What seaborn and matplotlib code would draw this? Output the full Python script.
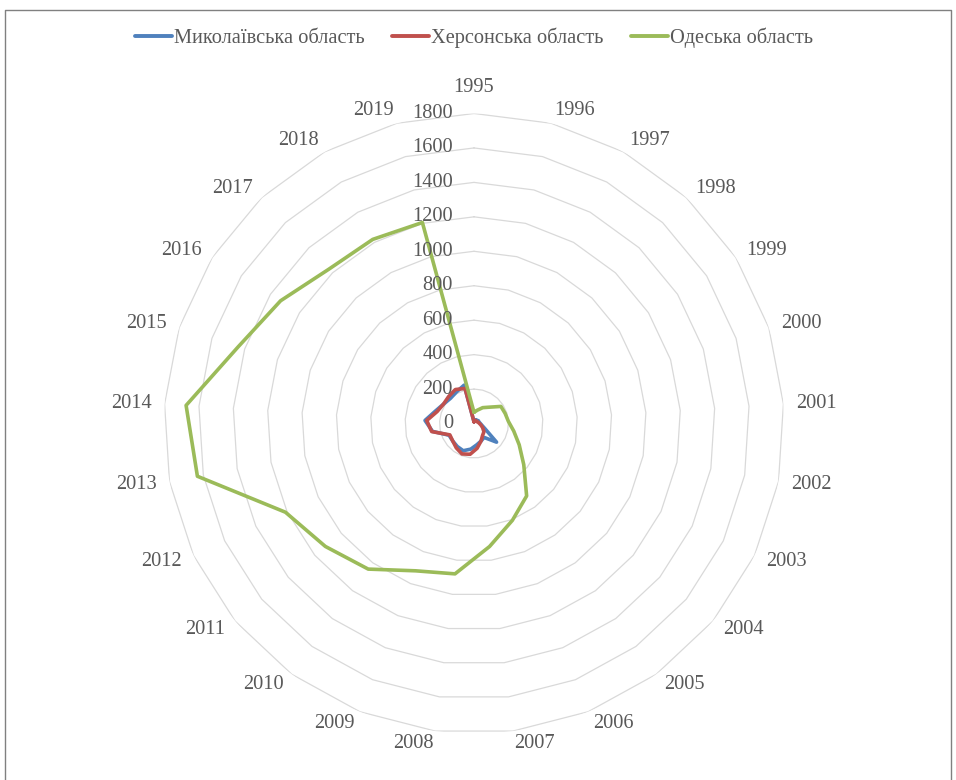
import numpy as np
import pandas as pd
import matplotlib
matplotlib.use("Agg")
import matplotlib.pyplot as plt
from matplotlib.lines import Line2D
import seaborn as sns

# ---------------- data ----------------
years = [str(y) for y in range(1995, 2020)]
series_names = ["Миколаївська область", "Херсонська область", "Одеська область"]
mykolaiv = [10, 20, 25, 25, 30, 30, 35, 45, 70, 170, 100, 110, 125, 150, 170,
            165, 160, 160, 245, 285, 235, 210, 200, 210, 230]
kherson = [10, 15, 20, 20, 20, 25, 30, 40, 55, 75, 85, 110, 145, 180, 190,
           175, 160, 155, 250, 275, 225, 210, 215, 225, 210]
odesa = [65, 80, 105, 130, 185, 190, 200, 235, 290, 375, 520, 605, 720, 880, 920,
         1045, 1120, 1210, 1635, 1675, 1440, 1330, 1230, 1220, 1205]
r_ticks = [0, 200, 400, 600, 800, 1000, 1200, 1400, 1600, 1800]
colors = ["#4F81BD", "#C0504D", "#9BBB59"]

# ---------------- style ----------------
sns.set_theme(style="white")
plt.rcParams["font.family"] = ["Liberation Serif", "DejaVu Serif"]
FS = 14.7

W, H = 956, 780
fig = plt.figure(figsize=(W / 100, H / 100), dpi=100)
cx, cy, R = 474, 423.5, 310
ax = fig.add_axes([(cx - R) / W, (H - cy - R) / H, 2 * R / W, 2 * R / H],
                  projection="polar")
ax.set_theta_zero_location("N")
ax.set_theta_direction(-1)

n = len(years)
theta = np.arange(n) * 2 * np.pi / n
theta_closed = np.append(theta, 2 * np.pi)

# polygon gridlines
for r in r_ticks[1:]:
    ax.plot(theta_closed, [r] * (n + 1), color="#D9D9D9", lw=0.9, zorder=1)

# data lines via seaborn
rows = []
for name, vals in zip(series_names, [mykolaiv, kherson, odesa]):
    vc = list(vals) + [vals[0]]
    for i, (t, v) in enumerate(zip(theta_closed, vc)):
        rows.append({"series": name, "theta": t, "value": v, "order": i})
df = pd.DataFrame(rows)
sns.lineplot(data=df, x="theta", y="value", hue="series", hue_order=series_names,
             palette=colors, sort=False, estimator=None, units="series",
             lw=2.6, ax=ax, legend=False, zorder=3)

ax.set_ylim(0, r_ticks[-1])
ax.set_xlabel("")
ax.set_ylabel("")
ax.grid(False)
ax.spines["polar"].set_visible(False)
ax.set_xticks([])
ax.set_yticks([])
ax.set_facecolor("none")

# radial value labels
for v in r_ticks:
    ax.annotate(str(v), xy=(0, v), xytext=(-21, 0), textcoords="offset pixels",
                ha="right", va="center", fontsize=FS, color="#595959",
                annotation_clip=False)

# category labels
rmax = r_ticks[-1]
for t, lab in zip(theta, years):
    s = np.sin(t)
    if abs(s) < 1e-6:
        ax.text(t, rmax * 326 / R, lab, ha="center", va="bottom", fontsize=FS,
                color="#595959")
    else:
        ax.text(t, rmax * 323 / R, lab, ha="left" if s > 0 else "right",
                va="center", fontsize=FS, color="#595959")

# legend
handles = [Line2D([0], [0], color=c, lw=2.8) for c in colors]
fig.legend(handles, series_names, loc="center", bbox_to_anchor=(474 / W, 1 - 38 / H),
           ncol=3, frameon=False, handlelength=1.8, handletextpad=0.1,
           columnspacing=1.35, fontsize=FS, labelcolor="#595959")

# chart border (left, top, right)
bx0, bx1, by_top = 4.5 / W, 950.5 / W, 1 - 9.5 / H
fig.add_artist(Line2D([bx0, bx0, bx1, bx1], [0, by_top, by_top, 0],
                      transform=fig.transFigure, color="#808080", lw=1))

fig.savefig("out.png", dpi=100)
